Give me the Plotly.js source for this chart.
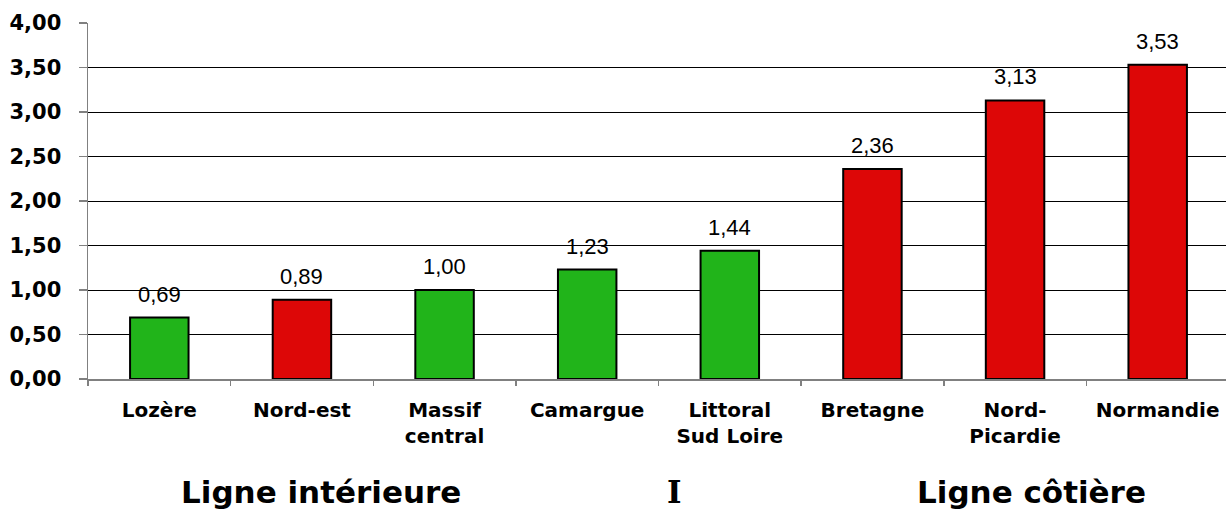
<!DOCTYPE html>
<html>
<head>
<meta charset="utf-8">
<script src="https://cdn.plot.ly/plotly-3.0.1.min.js"></script>
<style>
html,body{margin:0;padding:0;overflow:hidden;background:#fff;}
#chart{width:1232px;height:511px;}
</style>
</head>
<body>
<div id="chart"></div>
<script>
const categories = ["Lozère", "Nord-est", "Massif<br>central", "Camargue", "Littoral<br>Sud Loire", "Bretagne", "Nord-<br>Picardie", "Normandie"];
const values = [0.69, 0.89, 1.00, 1.23, 1.44, 2.36, 3.13, 3.53];
const groups = ["int", "cot", "int", "int", "int", "cot", "cot", "cot"];
const valueLabels = ["0,69", "0,89", "1,00", "1,23", "1,44", "2,36", "3,13", "3,53"];
const yTickVals = [0, 0.5, 1, 1.5, 2, 2.5, 3, 3.5, 4];
const yTickText = ["0,00", "0,50", "1,00", "1,50", "2,00", "2,50", "3,00", "3,50", "4,00"];
const bottomTexts = ["Ligne intérieure", "I", "Ligne côtière"];

const GREEN = "#21B41A";
const RED = "#DD0707";
const colors = groups.map(g => g === "int" ? GREEN : RED);

const trace = {
  type: "bar",
  x: categories,
  y: values,
  width: 0.41,
  marker: {color: colors, line: {color: "#000", width: 2}},
  hoverinfo: "skip"
};

const annotations = categories.map((c, i) => ({
  x: c, y: values[i], xref: "x", yref: "y",
  text: valueLabels[i], showarrow: false,
  yanchor: "bottom", yshift: 9,
  font: {family: "Liberation Sans, Arial, sans-serif", size: 22, color: "#000"}
}));

const bottomX = [0.2045, 0.5136, 0.8265];
const bottomFonts = ["DejaVu Sans, Verdana, sans-serif", "DejaVu Serif, serif", "DejaVu Sans, Verdana, sans-serif"];
bottomTexts.forEach((t, i) => {
  annotations.push({
    x: bottomX[i], y: -0.317, xref: "paper", yref: "paper",
    text: "<b>" + t + "</b>", showarrow: false,
    xanchor: "center", yanchor: "middle",
    font: {family: bottomFonts[i], size: 31, color: "#000"}
  });
});

const layout = {
  width: 1232, height: 511,
  margin: {l: 88, r: 3, t: 23, b: 132},
  paper_bgcolor: "#fff", plot_bgcolor: "#fff",
  showlegend: false,
  bargap: 0.59,
  xaxis: {
    type: "category",
    showgrid: false,
    showline: true, linecolor: "#808080", linewidth: 1.5,
    ticks: "outside", tickson: "boundaries", ticklen: 5, tickcolor: "#808080", tickwidth: 1.5,
    tickfont: {family: "DejaVu Sans, Verdana, sans-serif", size: 20, color: "#000", weight: "bold"},
    ticklabelstandoff: 12,
    fixedrange: true
  },
  yaxis: {
    range: [0, 4],
    tickvals: yTickVals, ticktext: yTickText,
    showgrid: true, gridcolor: "#000", gridwidth: 1,
    zeroline: false,
    showline: true, linecolor: "#808080", linewidth: 1.5,
    ticks: "outside", ticklen: 8, tickcolor: "#808080", tickwidth: 1.5,
    tickfont: {family: "DejaVu Sans, Verdana, sans-serif", size: 21, color: "#000", weight: "bold"},
    ticklabelstandoff: 13,
    fixedrange: true
  },
  annotations: annotations,
  font: {family: "DejaVu Sans, sans-serif"}
};

Plotly.newPlot("chart", [trace], layout, {displayModeBar: false, staticPlot: true});
</script>
</body>
</html>
